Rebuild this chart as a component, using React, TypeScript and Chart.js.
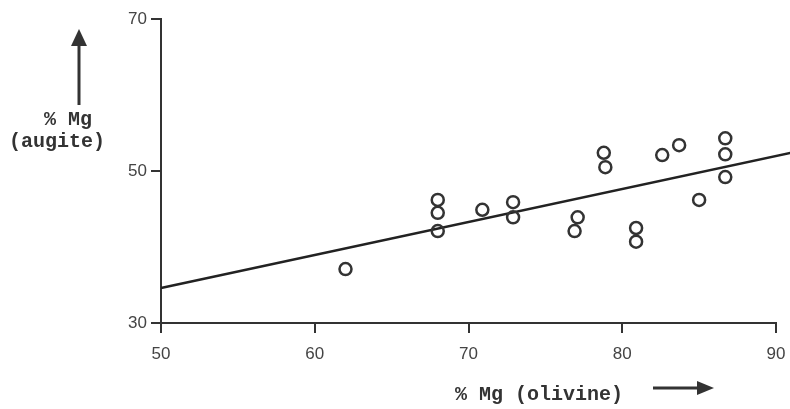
import React, { useEffect, useRef } from "react";
import { Chart, registerables } from "chart.js";

Chart.register(...registerables);

const xTicks = [50, 60, 70, 80, 90];
const yTicks = [30, 50, 70];
const olivineMg = [62, 68, 68, 68, 70.9, 72.9, 72.9, 77.1, 76.9, 80.9, 80.9, 78.8, 78.9, 82.6, 83.7, 86.7, 86.7, 86.7, 85.0];
const augiteMg = [37.1, 46.2, 44.5, 42.1, 44.9, 45.9, 43.9, 43.9, 42.1, 42.5, 40.7, 52.4, 50.5, 52.1, 53.4, 54.3, 52.2, 49.2, 46.2];
const fitX = [50, 91];
const fitY = [34.6, 52.4];

const INK = "#333333";

const labelsPlugin = {
  id: "handLabels",
  afterDraw(chart: any) {
    const ctx = chart.ctx as CanvasRenderingContext2D;
    ctx.save();
    ctx.fillStyle = INK;
    ctx.strokeStyle = INK;
    ctx.font = "bold 20px 'Liberation Mono', 'DejaVu Sans Mono', monospace";
    ctx.textAlign = "center";
    ctx.textBaseline = "middle";
    ctx.fillText("% Mg", 68, 120);
    ctx.fillText("(augite)", 57, 142);
    ctx.textAlign = "left";
    ctx.fillText("% Mg (olivine)", 455, 395);
    // vertical arrow
    ctx.lineWidth = 3;
    ctx.beginPath();
    ctx.moveTo(79, 105);
    ctx.lineTo(79, 40);
    ctx.stroke();
    ctx.beginPath();
    ctx.moveTo(79, 29);
    ctx.lineTo(71, 46);
    ctx.lineTo(87, 46);
    ctx.closePath();
    ctx.fill();
    // horizontal arrow
    ctx.beginPath();
    ctx.moveTo(653, 388);
    ctx.lineTo(705, 388);
    ctx.stroke();
    ctx.beginPath();
    ctx.moveTo(714, 388);
    ctx.lineTo(697, 381);
    ctx.lineTo(697, 395);
    ctx.closePath();
    ctx.fill();
    ctx.restore();
  },
};

export default function App() {
  const ref = useRef<HTMLCanvasElement>(null);
  useEffect(() => {
    document.body.style.margin = "0";
    const chart = new Chart(ref.current!, {
      type: "scatter",
      data: {
        datasets: [
          {
            type: "scatter",
            data: olivineMg.map((x, i) => ({ x, y: augiteMg[i] })),
            pointStyle: "circle",
            pointRadius: 6,
            pointBorderWidth: 2.5,
            pointBackgroundColor: "rgba(0,0,0,0)",
            pointBorderColor: INK,
          },
          {
            type: "line",
            data: fitX.map((x, i) => ({ x, y: fitY[i] })),
            borderColor: "#222",
            borderWidth: 2.5,
            pointRadius: 0,
            clip: false,
          } as any,
        ],
      },
      options: {
        animation: false,
        responsive: false,
        maintainAspectRatio: false,
        layout: { padding: { top: 19, right: 14, left: 0, bottom: 0 } },
        plugins: { legend: { display: false }, tooltip: { enabled: false } },
        scales: {
          x: {
            type: "linear",
            min: 50,
            max: 90,
            afterBuildTicks: (s: any) => { s.ticks = xTicks.map((v) => ({ value: v })); },
            afterFit: (s: any) => { s.height = 86; s.paddingLeft = 0; s.paddingRight = 0; },
            grid: { drawOnChartArea: false, drawTicks: true, tickLength: 10, color: INK, lineWidth: 2 },
            border: { display: true, color: INK, width: 2 },
            ticks: { color: "#444", font: { family: "'Liberation Sans', Arial, sans-serif", size: 17 }, padding: 11 },
          },
          y: {
            type: "linear",
            min: 30,
            max: 70,
            afterBuildTicks: (s: any) => { s.ticks = yTicks.map((v) => ({ value: v })); },
            afterFit: (s: any) => { s.width = 161; s.paddingTop = 0; s.paddingBottom = 0; },
            grid: { drawOnChartArea: false, drawTicks: true, tickLength: 10, color: INK, lineWidth: 2 },
            border: { display: true, color: INK, width: 2 },
            ticks: { color: "#444", font: { family: "'Liberation Sans', Arial, sans-serif", size: 17 }, padding: 4 },
          },
        },
      },
      plugins: [labelsPlugin],
    } as any);
    return () => chart.destroy();
  }, []);
  return (
    <div style={{ position: "absolute", left: 0, top: 0, width: 790, height: 409, background: "#fff" }}>
      <canvas ref={ref} width={790} height={409} style={{ width: 790, height: 409 }} />
    </div>
  );
}
